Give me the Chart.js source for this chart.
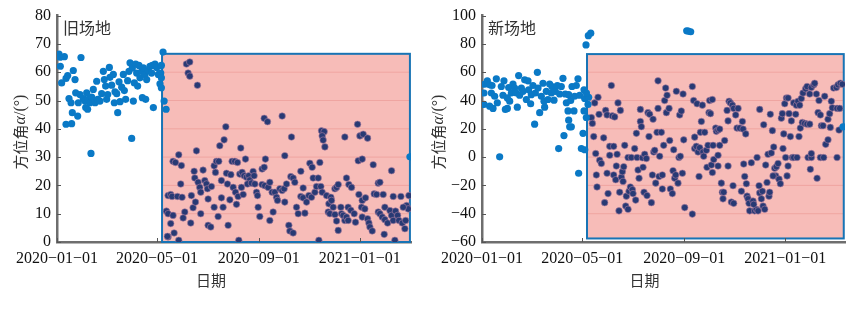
<!DOCTYPE html>
<html>
<head>
<meta charset="utf-8">
<script src="https://cdn.jsdelivr.net/npm/chart.js@4.4.1/dist/chart.umd.min.js"></script>
<style>
  body { margin: 0; background: #fff; width: 858px; height: 319px; overflow: hidden; position: relative; }
  .panel { position: absolute; top: 0; width: 429px; height: 319px; }
</style>
</head>
<body>
<div class="panel" style="left:0"><canvas id="oldSite"></canvas></div>
<div class="panel" style="left:429px"><canvas id="newSite"></canvas></div>
<script>
// x values are days counted from 2020-01-01
const tickDays = [0, 121, 244, 366];
const tickLabels = ['2020-01-01', '2020-05-01', '2020-09-01', '2021-01-01'];

// 旧场地 - before the change (blue)
const oldBeforeDays = [2.4, 3.6, 8.9, 4, 29, 5.6, 10.9, 12.9, 21.8, 19.7, 14.5, 17, 18.5, 22.6, 25, 10.9, 17.7, 27.8, 25.8, 31.8,
  33.9, 35.9, 34.7, 37, 37.9, 39.9, 41.1, 41.9, 43.9, 46, 48, 49.2, 52, 54, 56, 57.2, 58.8, 60, 61.3, 63.3,
  64, 66.1, 68.1, 69.3, 70.1, 72.2, 73.4, 75, 76.2, 78.2, 80.2, 81.4, 83, 85.4, 87, 88.3, 90.3, 91.1, 92.3, 93.5,
  95.1, 96.3, 97.5, 99.1, 100.3, 102.4, 103.2, 104.4, 106.4, 107.2, 108.4, 110.4, 112.4, 114.4, 115.3, 116.5, 118.5, 120.5, 122.5, 124.5,
  128.2, 126.2, 125.4, 126.2, 126.2, 129.5, 131.9, 426.7];
const oldBeforeVals = [66.4, 65.3, 65.5, 62.1, 65.2, 56.2, 57.8, 58.8, 57.4, 60.6, 50.7, 49.2, 45.7, 52.7, 44.5, 41.6, 41.8, 52.1, 49.2, 50.7,
  49.8, 52.7, 47.5, 46.9, 50.4, 49.2, 31.3, 51.2, 53.9, 49.2, 56.8, 50.4, 49.8, 52.4, 60.3, 57.4, 55.1, 50.4, 52.1, 61.7,
  58.2, 55.4, 59.2, 49.2, 53.1, 52.4, 45.7, 56.6, 49.6, 54.7, 59.2, 53.5, 50.4, 57.0, 60.3, 63.3, 36.6, 61.5, 49.8, 56.2,
  62.9, 59.7, 55.1, 62.4, 58.0, 60.3, 51.0, 61.5, 59.2, 50.4, 57.4, 60.6, 62.1, 59.7, 62.4, 47.5, 62.9, 61.7, 59.2, 55.9,
  67.1, 62.4, 59.7, 58.0, 54.5, 49.8, 46.9, 30.1];

// 旧场地 - after the change (navy)
const oldAfterDays = [156.5, 160.5, 158.5, 160.5, 169.8, 168.6, 147.2, 140.3, 143.2, 150.4, 134.3, 137.5, 139.1, 145.6, 151.2, 132.3, 134.3, 140.3, 137.5, 141.6,
  134.3, 147.2, 149.6, 154.5, 152.5, 161.7, 162.5, 164.5, 166.6, 165.8, 167.4, 170.6, 172.6, 173.8, 173.8, 176.6, 178.7, 180.7, 181.9, 182.7,
  185.9, 182.7, 186.7, 190, 192.8, 195.6, 191.6, 190, 194.8, 196.8, 202, 204.1, 198.8, 198.8, 200.8, 204.9, 206.1, 206.9, 209, 210.2,
  211.7, 215, 218.2, 213, 215.8, 217, 219, 222.2, 221, 223.8, 226.3, 227.9, 229.1, 231.9, 233.1, 219.8, 223, 225.1, 230.3, 235.1,
  237.1, 238.3, 239.2, 241.2, 242.4, 243.2, 245.2, 248, 250.5, 252, 250.5, 254.5, 248, 251.3, 255.3, 257.3, 260.1, 257.3, 261.3, 263.4,
  265.4, 266.6, 269.4, 272.2, 274.6, 272.2, 275.4, 277.5, 275.4, 280.3, 281.5, 285.5, 283.5, 282.7, 285.5, 287.5, 289.6, 291.6, 294.8, 297.6,
  294.8, 297.6, 299.7, 301.7, 305.7, 308.5, 304.5, 307.7, 309.7, 311.8, 313.8, 315.8, 317.8, 319.8, 323, 320.6, 321.8, 323.9, 316.6, 319,
  320.6, 325.9, 328.7, 327.9, 329.9, 331.1, 331.9, 333.9, 336, 338, 340, 336, 338, 340, 343.2, 344, 346, 348, 350, 352,
  348, 350, 352, 355.3, 352.9, 356.1, 359.3, 360.9, 363.4, 364.2, 369, 366.2, 370.2, 375.5, 365, 369, 373, 368.2, 372.2, 369,
  375.5, 377.1, 378.3, 381.1, 382.3, 383.5, 386.4, 388.4, 390.4, 388.4, 390.4, 393.2, 394.4, 396.4, 396.4, 399.7, 395.6, 402.5, 404.5, 406.5,
  404.5, 406.5, 408.5, 409.3, 411.8, 413.4, 415.8, 417.4, 420.6, 421.5, 422.7, 424.7, 418.6, 425.5, 133.5];
const oldAfterVals = [62.9, 63.6, 59.7, 58.6, 55.4, 32.2, 30.8, 28.5, 28.1, 27.0, 16.4, 16.8, 16.1, 16.1, 15.8, 10.9, 10.0, 9.4, 6.5, 3.2,
  1.8, 0.6, 20.5, 10.6, 8.5, 6.7, 16.4, 12.1, 22.6, 25.0, 14.1, 21.1, 19.3, 17.6, 10.0, 25.4, 21.7, 20.5, 18.8, 5.9,
  5.3, 15.2, 19.6, 26.9, 28.5, 28.5, 24.6, 12.3, 9.0, 34, 36.1, 40.7, 21.7, 15.6, 12.3, 24.3, 20.5, 5.9, 14.9, 23.8,
  28.5, 28.5, 28.1, 19.3, 17.6, 13.3, 16.1, 33.2, 24.0, 24.6, 23.4, 29.3, 22.9, 23.4, 21.9, 0.6, 19.3, 16.8, 20.5, 20.8,
  24.9, 23.4, 20.5, 17.6, 16.4, 12.3, 9.0, 25.8, 26.4, 29.3, 43.7, 42.5, 20.3, 19.9, 19.3, 21.1, 17.6, 7.6, 10.6, 17.6,
  15.8, 14.7, 18.8, 18.2, 18.8, 44.5, 30.5, 20.5, 14.1, 5.9, 3.9, 3.2, 37.1, 23.1, 22.6, 21.1, 12.3, 10.0, 25.0, 19.1,
  16.1, 15.6, 10.2, 14.1, 27.8, 26.4, 16.4, 15.8, 22.6, 17.6, 19.6, 22.6, 28.1, 39.3, 39.0, 37.5, 36, 33.6, 0.6, 19.6,
  17.6, 16.4, 13.5, 10.6, 10.0, 15.8, 14.7, 12.3, 18.8, 19.3, 20.3, 9.7, 7.4, 4.1, 12.3, 10.0, 9.4, 7.6, 8.8, 7.6,
  37.1, 22.6, 12.3, 11.2, 20.3, 19.3, 10, 7.0, 41.6, 28.7, 29.3, 37.5, 38.1, 36.7, 16.8, 14.7, 15.6, 12.3, 11.7, 8.8,
  8.2, 6.7, 5.3, 3.9, 27.3, 17.0, 16.8, 20.8, 21.1, 10.6, 10.0, 8.8, 16.8, 12.3, 7.9, 6.7, 2.7, 11.1, 9.4, 7.6,
  25.2, 16.1, 0.6, 10.9, 9.4, 7.6, 16.1, 6.7, 4.7, 7.6, 12.9, 11.7, 12.3, 16.4, 2.0];

// 新场地 - before the change (blue)
const newBeforeDays = [2.4, 3.2, 2.4, 6.4, 9.2, 12.1, 11.3, 9.2, 13.3, 17.3, 15.3, 18.5, 21.3, 23.3, 26.5, 25.3, 28.2, 30.6, 30.6, 33.4,
  32.2, 35.4, 37.4, 39.4, 41.4, 42.6, 44.2, 45.4, 47.5, 49.5, 51.5, 53.5, 55.5, 56.3, 58.7, 59.5, 61.5, 63.5, 64.4, 66.8,
  67.6, 69.6, 71.6, 73.6, 74.8, 75.6, 77.6, 79.6, 81.6, 83.6, 84.5, 86.9, 88.5, 90.9, 92.5, 93.7, 95.7, 97.7, 98.9, 100.5,
  101.8, 103.8, 104.6, 105.8, 107.8, 104.6, 107, 108.6, 111, 111.8, 113.8, 115.8, 116.6, 117.8, 119.9, 121.9, 123.1, 123.1, 125.9, 123.9,
  127.9, 128.7, 125.5, 128.3, 131.2, 126, 124, 247, 249, 251.8, 435.6];
const newBeforeVals = [37.2, 51.5, 45.3, 53.9, 51.1, 50.6, 45.3, 36.0, 34.4, 55.3, 43.0, 38.4, 0.2, 49.9, 53.9, 43.7, 33.7, 34.4, 41.8, 39.5,
  49.2, 45.3, 51.6, 48.8, 45.3, 35.3, 57.6, 43.7, 48.8, 46.5, 54.6, 40.7, 53.9, 47.6, 37.7, 44.1, 50.6, 23.3, 45.3, 59.9,
  48.8, 31.4, 43.0, 52.2, 39.5, 35.3, 46.5, 40.7, 51.6, 45.3, 49.9, 40.2, 46.5, 50.6, 6.0, 44.6, 49.9, 55.7, 15.2, 44.6,
  38.4, 32.6, 26.1, 21.4, 21.4, 44.1, 40, 49.9, 32.6, 43.0, 50.6, 55.3, -11.4, 43.7, 6.0, 16.8, 32.6, 47.6, 28.0, 41.4,
  37.2, 42.3, 79.3, 85.8, 87.6, 45.3, 5.2, 89.3, 89, 88.6, 21.4];

// 新场地 - after the change (navy)
const newAfterDays = [132, 136, 140, 133.2, 134.8, 137.2, 138, 138.8, 142, 144, 141.2, 146.8, 148, 149.2, 150.9, 152.1, 150.9, 154.1, 154.1, 156.1,
  157.3, 158.9, 160.1, 158.9, 161.3, 162.1, 164.1, 163, 165.3, 167, 166.1, 168.2, 169.4, 170.2, 171, 172.2, 174.2, 173.4, 176.2, 176.2,
  177.4, 179, 181.4, 182.2, 180.2, 184.2, 185.4, 186.3, 187.1, 188.3, 189.5, 191.1, 192.3, 191.1, 193.5, 194.3, 195.5, 196.3, 198.3, 199.1,
  200.3, 201.5, 202.3, 204.4, 205.6, 206.4, 207.2, 208.4, 209.6, 211.2, 212.4, 212.4, 213.6, 214.4, 216.4, 217.6, 217.6, 219.2, 220.4, 221.6,
  222.5, 223.3, 225.7, 226.5, 227.3, 229.7, 230.5, 231.3, 232.5, 233.7, 234.5, 236.5, 237.7, 238.5, 240.5, 239.3, 242.6, 241.8, 243.4, 244.6,
  253.8, 253.8, 255.4, 256.6, 256.6, 258.6, 260.7, 262.7, 259.5, 261.9, 263.5, 264.7, 265.9, 266.7, 267.5, 268.7, 270.7, 271.5, 272.7, 273.9,
  274.7, 277.9, 275.7, 276.8, 278, 278.8, 279.6, 282, 282.8, 284.8, 286.8, 284.8, 284.8, 286.8, 288.8, 290, 290.8, 291.6, 292.8, 295.7,
  296.9, 296.9, 298.1, 299.7, 302.1, 303.7, 300.9, 302.9, 303.7, 306.1, 307.7, 309, 311, 313, 314.2, 315, 315.8, 317, 318.2, 319,
  319.8, 321, 322.2, 323, 325, 327, 329, 331, 333.1, 327.8, 331.9, 334.3, 335.1, 335.1, 337.1, 339.1, 341.1, 338.3, 339.9, 342.3,
  343.9, 346.3, 347.1, 345.1, 347.9, 349.1, 350.4, 352, 353.2, 354.4, 355.2, 351.2, 357.2, 358.4, 360, 361.2, 362.4, 364.1, 365.3, 367.3,
  369.3, 363.2, 366.4, 369.3, 368.1, 370.5, 372.1, 373.3, 374.5, 376.1, 380.1, 376.1, 379.3, 381.3, 383.3, 378.5, 382.5, 384.1, 385.3, 386.5,
  389.3, 392.2, 395.4, 387.3, 390.5, 392.2, 395.4, 397.4, 400.4, 401.4, 393.4, 397.4, 396.2, 397.4, 403.5, 404.3, 405.5, 408.3, 406.6, 408.3,
  412.3, 409.5, 411.5, 413.5, 414.7, 417.5, 417.5, 419.5, 420.3, 421.5, 422.7, 424.3, 427.6, 428.4, 429.6, 432.4, 434.8, 428.4, 431.6, 430.8];
const newAfterVals = [27.9, 38.3, 42.3, 23.8, 14.5, 2.5, -12.6, -21.1, -2.2, -4.5, 30.2, 13.6, -32.2, 33, 29.8, -25.8, -11.4, 7.6, 1.3, 50.6,
  29.1, 7.6, 28.4, -12.6, -16.0, -6.3, 38.3, 2.0, -38.0, 33, -24.8, -14.2, -10.3, -17.2, -6.8, 8.3, -27.6, -34.6, -36.9, -0.3,
  -24.1, -21.1, -23, -25.8, -0.3, 6, -30.4, 16.8, -0.3, -9.1, -14.9, 25.2, 21.5, 33.7, -0.5, -7.2, -24.8, 2.0, -1, -27.2,
  31.4, 14.5, 30.3, -32.2, -12.6, 26.8, 3.6, 4.8, -18.4, 17.5, 53.9, 34.4, -13.7, 0.6, 17.5, -12.6, -22.5, 8.3, 40, 48.8,
  31.4, 43.7, 34.4, 11.7, -22.5, -25.8, -9.6, 5.2, -14.9, -12.6, 46.5, -18.4, -0.3, 29.8, 32.6, 0.6, 44.6, -11.4, 12.2, -35.7,
  -40.3, 49.9, 40, 14.1, 6, 7.6, 3.6, 6.6, 37.7, -13.7, 17.5, 25.2, 36.7, 3.6, 0.6, 17.5, 4.8, -7.2, 8.3, 31.4,
  40, 40.7, 30.7, -5.6, -10.9, 8.3, -1.7, 20.5, 18.2, 19.1, 19.8, 1.3, -6.3, 8.3, -18.4, -24.8, -29.5, -24.8, 11.7, 33,
  25.6, -6.3, 39.5, 38.3, 36.7, 34.4, -31.8, -20.2, -32.7, 29.8, 20.5, 34.4, 20.5, -24.1, 25.2, 19.8, -4.9, -13.7, 16.4, -18.8,
  -27.6, -29.5, -32.7, -38.0, -4, -31.1, -38, -36.9, -38, -33.4, -0.3, -20.2, -25.3, 33.7, -29.5, -34.6, -36.9, -24.1, 22.9, -5.6,
  -17.9, -27.6, -24.8, 2.0, 30.3, 2.9, 18.7, 7.1, -7.9, -13.3, -6.8, -13.3, -4.5, -15.6, -18.8, 27.5, 30.7, 16.4, 37.7, 41.8,
  41.8, 6, -0.3, -6.3, -13.3, 30.7, 14.5, 25.6, -0.3, -0.3, -0.3, 38.3, 36.7, 39.5, 36.7, 30.3, 14.5, 20.5, 41.4, 24.5,
  23.8, 23.3, 23.3, 45.3, 48.3, 49.9, 44.6, 49.2, 51.1, 52.2, -0.3, -0.3, -8.6, 2.5, 44.6, -14.9, 31.4, 29.8, 40, -0.3,
  -0.3, 22.2, 22.2, 43, 9, 12.2, 26.8, 30.7, 21, 39.5, 34.8, 48.8, 49.2, -0.3, 51.1, 52.2, 51.5, 34.4, 34.4, 19.1];

const FONT = "'Liberation Serif', 'Noto Sans CJK SC', serif";
const CJK = "'Noto Sans CJK SC', 'Liberation Serif', sans-serif";
const minus = s => String(s).replace(/-/g, '\u2212');
const pts = (xs, ys) => xs.map((x, i) => ({ x: x, y: ys[i] }));

function makeChart(id, o) {
  const decor = {
    id: 'decor' + id,
    beforeDatasetsDraw(chart) {
      const { ctx, scales: { x, y } } = chart;
      const l = x.getPixelForValue(o.box[0]), r = x.getPixelForValue(o.box[1]);
      const t = y.getPixelForValue(o.box[3]), b = y.getPixelForValue(o.box[2]);
      ctx.save();
      ctx.fillStyle = '#f7bcb8';
      ctx.fillRect(l, t, r - l, b - t);
      ctx.strokeStyle = 'rgba(233,146,142,0.55)';
      ctx.lineWidth = 1;
      y.ticks.forEach(tk => {
        const py = y.getPixelForValue(tk.value);
        if (py > t + 2 && py < b - 2) {
          ctx.beginPath(); ctx.moveTo(l, py); ctx.lineTo(r, py); ctx.stroke();
        }
      });
      ctx.strokeStyle = '#1874b5';
      ctx.lineWidth = 2;
      ctx.strokeRect(l, t, r - l, b - t);
      ctx.restore();
    },
    afterDraw(chart) {
      const { ctx, chartArea: a, scales: { x, y } } = chart;
      ctx.save();
      // small inner tick marks
      ctx.strokeStyle = '#555';
      ctx.lineWidth = 1;
      y.ticks.forEach(tk => {
        const py = Math.round(y.getPixelForValue(tk.value)) + 0.5;
        ctx.beginPath(); ctx.moveTo(a.left, py); ctx.lineTo(a.left + 4, py); ctx.stroke();
      });
      x.ticks.forEach(tk => {
        const px = Math.round(x.getPixelForValue(tk.value)) + 0.5;
        ctx.beginPath(); ctx.moveTo(px, a.bottom); ctx.lineTo(px, a.bottom - 4); ctx.stroke();
      });
      // panel label
      ctx.fillStyle = '#333';
      ctx.font = '16px ' + CJK;
      ctx.textAlign = 'left';
      ctx.textBaseline = 'middle';
      ctx.fillText(o.label, a.left + 6, 28);
      // x title
      ctx.textAlign = 'center';
      ctx.font = '15px ' + CJK;
      ctx.fillText('日期', a.left + a.width * o.xTitleFrac, 280);
      // y title: 方位角α/(°)
      const parts = [['方位角', '15px ' + CJK], ['α', 'italic 16px ' + FONT], ['/(°)', '16px ' + FONT]];
      let total = 0;
      parts.forEach(p => { ctx.font = p[1]; total += ctx.measureText(p[0]).width; });
      ctx.translate(a.left - o.yTitleGap, 132);
      ctx.rotate(-Math.PI / 2);
      ctx.textAlign = 'left';
      let cx = -total / 2;
      parts.forEach(p => { ctx.font = p[1]; ctx.fillText(p[0], cx, 0); cx += ctx.measureText(p[0]).width; });
      ctx.restore();
    }
  };

  return new Chart(document.getElementById(id), {
    type: 'scatter',
    data: {
      datasets: [
        {
          data: pts(o.beforeDays, o.beforeVals),
          backgroundColor: '#0a79c6',
          borderColor: '#0a79c6',
          borderWidth: 0,
          pointRadius: 3.6
        },
        {
          data: pts(o.afterDays, o.afterVals),
          backgroundColor: '#283a74',
          borderColor: 'rgba(170,125,160,0.6)',
          borderWidth: 1,
          pointRadius: 3.3
        }
      ]
    },
    options: {
      responsive: true,
      maintainAspectRatio: false,
      animation: false,
      events: [],
      layout: { padding: { left: 0, right: o.padRight, top: o.padTop, bottom: 0 } },
      plugins: { legend: { display: false }, tooltip: { enabled: false } },
      scales: {
        x: {
          type: 'linear',
          min: 0,
          max: o.xMax,
          afterBuildTicks: s => { s.ticks = tickDays.map(v => ({ value: v })); },
          afterFit: s => { s.height = 77; },
          grid: { display: false, drawTicks: false },
          border: { display: true, color: '#6e6e6e', width: 2.5 },
          ticks: {
            autoSkip: false,
            maxRotation: 0,
            padding: 7,
            color: '#111',
            font: { family: FONT, size: 16 },
            callback: v => {
              const i = tickDays.indexOf(v);
              return i < 0 ? '' : minus(tickLabels[i]);
            }
          }
        },
        y: {
          min: o.yMin,
          max: o.yMax,
          afterFit: s => { s.width = o.yWidth; },
          grid: { display: false, drawTicks: false },
          border: { display: true, color: '#6e6e6e', width: 2.5 },
          ticks: {
            stepSize: o.yStep,
            padding: 6,
            color: '#111',
            font: { family: FONT, size: 16 },
            callback: v => minus(v)
          }
        }
      }
    },
    plugins: [decor]
  });
}

makeChart('oldSite', {
  label: '旧场地',
  beforeDays: oldBeforeDays, beforeVals: oldBeforeVals,
  afterDays: oldAfterDays, afterVals: oldAfterVals,
  xMax: 428, yMin: 0, yMax: 80, yStep: 10,
  box: [127, 426.7, 0, 66.5],
  yWidth: 57, padRight: 18, padTop: 14,
  yTitleGap: 36.5, xTitleFrac: 0.435
});

makeChart('newSite', {
  label: '新场地',
  beforeDays: newBeforeDays, beforeVals: newBeforeVals,
  afterDays: newAfterDays, afterVals: newAfterVals,
  xMax: 438, yMin: -60, yMax: 100, yStep: 20,
  box: [126.7, 436.5, -57.5, 72.8],
  yWidth: 53, padRight: 13, padTop: 13,
  yTitleGap: 43.5, xTitleFrac: 0.448
});
</script>
</body>
</html>
